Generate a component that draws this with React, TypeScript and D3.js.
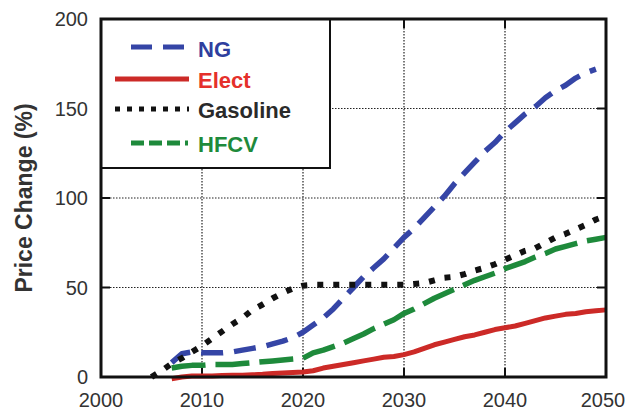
import React from "react";
import * as d3 from "d3";

const yearsMain = d3.range(2007, 2051);
const yearsNG = d3.range(2007, 2050);
const yearsGas = d3.range(2005, 2051);

const ngValues = [8, 13, 14, 13.5, 13.5, 13.5, 14, 15, 16, 17, 18.5, 20, 22, 25, 29, 33, 38, 44, 50, 56, 61, 66, 72, 78, 83, 89, 95, 101, 108, 114, 120, 126, 131, 137, 142, 147, 151, 156, 160, 163, 167, 170, 172];
const electValues = [-1, 0, 0.5, 0.5, 0.5, 0.8, 1, 1, 1.2, 1.5, 2, 2.2, 2.5, 2.8, 3.5, 5, 6, 7, 8, 9, 10, 11, 11.5, 12.5, 14, 16, 18, 19.5, 21, 22.5, 23.5, 25, 26.5, 27.5, 28.5, 30, 31.5, 33, 34, 35, 35.5, 36.5, 37, 37.5];
const gasolineValues = [0, 3.5, 7.5, 10.5, 14, 17.4, 21.5, 25.5, 29.5, 33, 37.5, 40.5, 44, 47, 49.5, 51, 51.5, 51.5, 51.5, 51.5, 51.5, 51.5, 51.5, 51.5, 51.5, 51.5, 52, 52.5, 54, 55.5, 56, 57.5, 59.5, 61, 63, 65.5, 68, 70.5, 72, 75, 78, 80, 82.5, 85, 88, 90];
const hfcvValues = [5, 6, 6.5, 6.5, 7, 7, 7, 7.5, 8, 8.5, 9, 9.5, 10, 10.5, 13.5, 15, 17, 19, 21.5, 24, 27, 29.5, 32, 35.5, 38, 41, 44, 46.5, 49, 51.5, 54, 56, 58, 60.5, 62.5, 64.5, 67, 69, 71.5, 73, 74.5, 76, 77, 78];

const xTicks = [2000, 2010, 2020, 2030, 2040, 2050];
const yTicks = [0, 50, 100, 150, 200];
const legendLabels = ["NG", "Elect", "Gasoline", "HFCV"];

const W = 626, H = 418;
const L = 101, R = 606, T = 19, B = 377;

export default function App() {
  const x = d3.scaleLinear().domain([2000, 2050]).range([L, R]);
  const y = d3.scaleLinear().domain([0, 200]).range([B, T]);
  const line = d3.line<[number, number]>().x(d => x(d[0])).y(d => y(d[1]));

  const series = [
    { name: "NG", years: yearsNG, values: ngValues, color: "#3545a6", text: "#2f3f9e", dash: "22,11", width: 5.5 },
    { name: "Elect", years: yearsMain, values: electValues, color: "#cc2a27", text: "#e5302b", dash: "none", width: 5 },
    { name: "Gasoline", years: yearsGas, values: gasolineValues, color: "#111", text: "#2a2a2a", dash: "6,10", width: 6 },
    { name: "HFCV", years: yearsMain, values: hfcvValues, color: "#1e8a3b", text: "#1e8a3b", dash: "34,10", width: 5.5 },
  ];

  const legendRows = [
    { y: 47, x1: 131, x2: 188, base: 57, dash: "21,11" },
    { y: 79, x1: 115, x2: 189, base: 88, dash: "none" },
    { y: 109, x1: 115, x2: 189, base: 118, dash: "5,7" },
    { y: 143, x1: 131, x2: 188, base: 152, dash: "13,5" },
  ];
  const legX1 = L, legX2 = 330, legY1 = T, legY2 = 168;

  return (
    <svg width={W} height={H} style={{ position: "absolute", left: 0, top: 0, background: "#fff" }}
      fontFamily="'Liberation Sans', Arial, Helvetica, sans-serif">
      <rect x={0} y={0} width={W} height={H} fill="#fff" />
      {xTicks.slice(1, -1).map(t => (
        <g key={"gx" + t}>
          <line x1={x(t)} x2={x(t)} y1={T} y2={B} stroke="#222" strokeWidth={1.2} strokeDasharray="1.5,1.5" />
          <line x1={x(t)} x2={x(t)} y1={B} y2={B - 9} stroke="#111" strokeWidth={2} />
          <line x1={x(t)} x2={x(t)} y1={T} y2={T + 9} stroke="#111" strokeWidth={2} />
        </g>
      ))}
      {yTicks.slice(1, -1).map(t => (
        <g key={"gy" + t}>
          <line x1={L} x2={R} y1={y(t)} y2={y(t)} stroke="#222" strokeWidth={1.2} strokeDasharray="1.5,1.5" />
          <line x1={L} x2={L + 9} y1={y(t)} y2={y(t)} stroke="#111" strokeWidth={2} />
          <line x1={R} x2={R - 9} y1={y(t)} y2={y(t)} stroke="#111" strokeWidth={2} />
        </g>
      ))}
      {series.map(s => (
        <path key={s.name} d={line(s.years.map((yr, i) => [yr, s.values[i]]) as [number, number][]) || ""}
          fill="none" stroke={s.color} strokeWidth={s.width} strokeDasharray={s.dash} strokeLinecap="butt" strokeLinejoin="round" />
      ))}
      <rect x={legX1} y={legY1} width={legX2 - legX1} height={legY2 - legY1} fill="#fff" stroke="#111" strokeWidth={2} />
      {series.map((s, i) => {
        const r = legendRows[i];
        return (
          <g key={"leg" + s.name}>
            <line x1={r.x1} x2={r.x2} y1={r.y} y2={r.y} stroke={s.color} strokeWidth={5} strokeDasharray={r.dash} />
            <text x={198} y={r.base} fontSize={22} fontWeight="bold" fill={s.text}>{legendLabels[i]}</text>
          </g>
        );
      })}
      <rect x={L} y={T} width={R - L} height={B - T} fill="none" stroke="#111" strokeWidth={3} />
      {xTicks.map(t => (
        <text key={"xt" + t} x={Math.min(x(t), 603)} y={407} textAnchor="middle" fontSize={20} fill="#333">{t}</text>
      ))}
      {yTicks.map(t => (
        <text key={"yt" + t} x={88} y={y(t) + 7} textAnchor="end" fontSize={20} fill="#333">{t}</text>
      ))}
      <text transform={`translate(32,${(T + B) / 2}) rotate(-90)`} textAnchor="middle" fontSize={23} fontWeight="bold" fill="#333">Price Change (%)</text>
    </svg>
  );
}
